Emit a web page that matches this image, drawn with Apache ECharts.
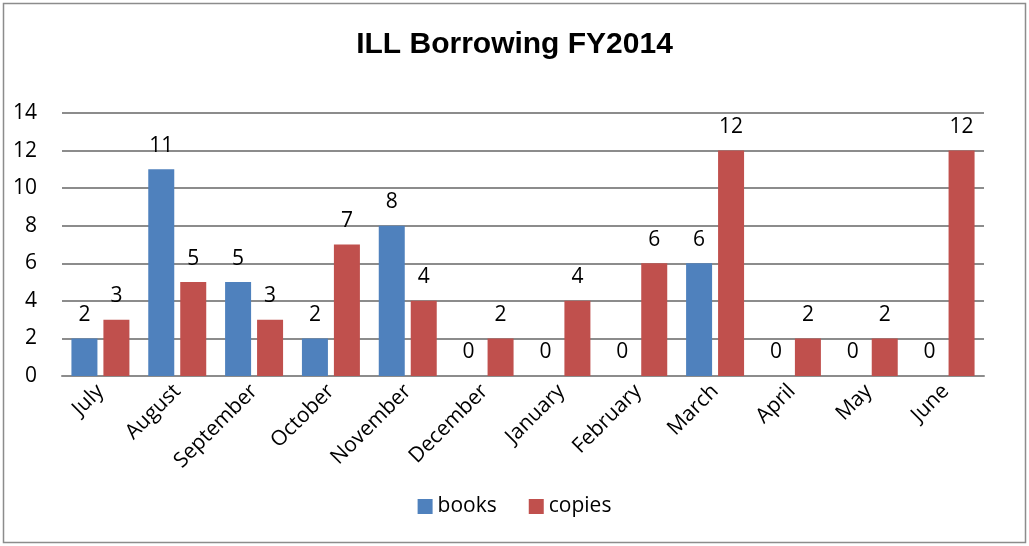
<!DOCTYPE html>
<html><head><meta charset="utf-8">
<script src="https://cdn.jsdelivr.net/npm/echarts@6/dist/echarts.min.js"></script>
<style>html,body{margin:0;padding:0;background:#fff}#c{width:1029px;height:546px}</style>
</head><body><div id="c"></div>
<script>
const months = ['July','August','September','October','November','December','January','February','March','April','May','June'];
const books = [2,11,5,2,8,0,0,0,6,0,0,0];
const copies = [3,5,3,7,4,2,4,6,12,2,2,12];
const yTicks = [0,2,4,6,8,10,12,14];

const chart = echarts.init(document.getElementById('c'));
const font = '"Open Sans", "Noto Sans", sans-serif';
const lbl = {show:true, position:'top', color:'#000', fontSize:21, fontFamily:font, distance:13};
chart.setOption({
  animation:false,
  graphic:[{type:'rect', shape:{x:3.5,y:3.5,width:1022,height:539}, style:{fill:'none', stroke:'#8c8c8c', lineWidth:1.5}, silent:true}],
  title:{text:'ILL Borrowing FY2014', left:'center', top:25, textStyle:{fontFamily:'"Liberation Sans", Arial, sans-serif', fontWeight:'bold', fontSize:30, color:'#000'}},
  legend:{bottom:24, left:'center', itemWidth:15, itemHeight:15, itemGap:32, icon:'rect',
    textStyle:{fontFamily:font, fontSize:21, color:'#000'}, data:['books','copies']},
  grid:{left:62, right:45, top:113, bottom:170, containLabel:false},
  xAxis:{type:'category', data:months, axisTick:{show:false},
    axisLine:{lineStyle:{color:'#8c8c8c', width:2}},
    axisLabel:{rotate:45, fontFamily:font, fontSize:21, color:'#000', margin:12, interval:0}},
  yAxis:{type:'value', min:0, max:14, interval:2,
    axisLine:{show:false}, axisTick:{show:false},
    splitLine:{lineStyle:{color:'#8c8c8c', width:2}},
    axisLabel:{fontFamily:font, fontSize:21, color:'#000', margin:25, formatter:v=>yTicks.includes(v)?String(v):''}},
  series:[
    {name:'books', type:'bar', data:books, barWidth:26, barGap:'23%', itemStyle:{color:'#4F81BD'}, label:lbl},
    {name:'copies', type:'bar', data:copies, barWidth:26, itemStyle:{color:'#C0504D'}, label:lbl}
  ]
});
</script></body></html>
